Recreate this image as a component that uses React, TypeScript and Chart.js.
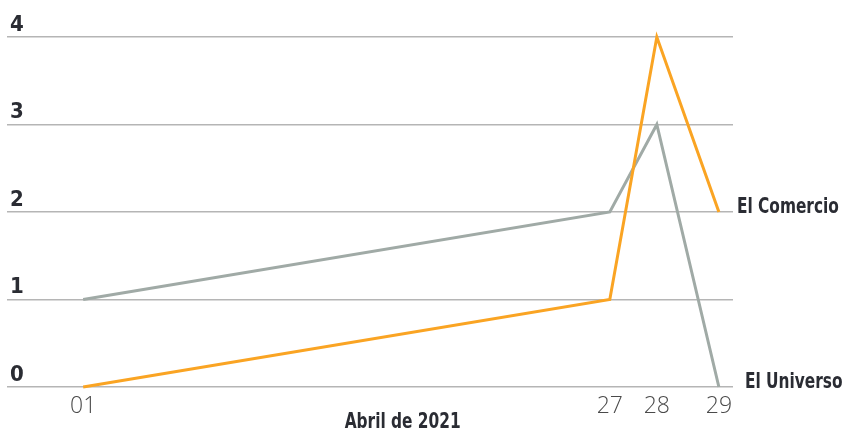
import { useEffect, useRef } from "react"
import { Chart, registerables } from "chart.js"

Chart.register(...registerables)

// days of April 2021 shown on the axis
const days = ["01", "27", "28", "29"]
// position of each day along the (non-linear) horizontal axis
const dayPos = [0, 11.2, 12.2, 13.52]
const comercio = [0, 1, 4, 2]
const universo = [1, 2, 3, 0]
const yTicks = [0, 1, 2, 3, 4]
const seriesNames = ["El Comercio", "El Universo"]

const condensed = "'DejaVu Sans Condensed', 'DejaVu Sans', sans-serif"

// draws text squeezed horizontally so it looks like a condensed face
function narrowText(ctx: CanvasRenderingContext2D, text: string, x: number, y: number, sx: number, align: "left" | "center") {
  ctx.save()
  ctx.translate(x, y)
  ctx.scale(sx, 1)
  ctx.textAlign = align
  ctx.fillText(text, 0, 0)
  ctx.restore()
}

const endLabels = {
  id: "endLabels",
  afterDatasetsDraw(chart: Chart) {
    const { ctx, chartArea } = chart
    ctx.save()
    ctx.font = `bold 21px ${condensed}`
    ctx.fillStyle = "#2a2c33"
    ctx.textBaseline = "middle"
    const sx = 102 / ctx.measureText(seriesNames[0]).width
    chart.data.datasets.forEach((ds, i) => {
      const meta = chart.getDatasetMeta(i)
      const last = meta.data[meta.data.length - 1]
      if (!last) return
      const dx = i === 0 ? 18 : 26
      narrowText(ctx, seriesNames[i], last.x + dx, last.y - 4, sx, "left")
    })
    // axis title
    narrowText(ctx, "Abril de 2021", chartArea.left + chartArea.width * 0.545, 423, sx, "center")
    ctx.restore()
  },
}

export default function App() {
  const chartRef = useRef<HTMLCanvasElement>(null)
  const chartInstance = useRef<Chart | null>(null)

  useEffect(() => {
    document.body.style.margin = "0"
    if (!chartRef.current) return
    if (chartInstance.current) chartInstance.current.destroy()

    const ctx = chartRef.current.getContext("2d")
    if (!ctx) return

    chartInstance.current = new Chart(ctx, {
      type: "line",
      data: {
        datasets: [
          {
            label: seriesNames[0],
            data: dayPos.map((x, i) => ({ x, y: comercio[i] })),
            borderColor: "#faa423",
            borderWidth: 3,
            pointRadius: 0,
            tension: 0,
            clip: false,
          },
          {
            label: seriesNames[1],
            data: dayPos.map((x, i) => ({ x, y: universo[i] })),
            borderColor: "#a0aaa6",
            borderWidth: 3,
            pointRadius: 0,
            tension: 0,
            clip: false,
          },
        ],
      },
      options: {
        animation: false,
        responsive: true,
        maintainAspectRatio: false,
        layout: { padding: { left: 7, right: 125, top: 37, bottom: 25 } },
        plugins: {
          legend: { display: false },
          tooltip: { enabled: false },
        },
        scales: {
          x: {
            type: "linear",
            min: -1.62,
            max: 13.82,
            grid: { display: false },
            border: { display: false },
            afterBuildTicks: (scale) => {
              scale.ticks = dayPos.map((v) => ({ value: v }))
            },
            afterFit: (scale) => {
              scale.height = 30
            },
            ticks: {
              autoSkip: false,
              maxRotation: 0,
              padding: -2,
              color: "#4a4a4a",
              font: { family: "'Open Sans', sans-serif", size: 23, weight: 300 },
              callback: (value) => {
                const i = dayPos.indexOf(Number(value))
                return i >= 0 ? days[i] : ""
              },
            },
          },
          y: {
            min: 0,
            max: 4,
            grid: { color: "#b5b5b5", lineWidth: 1.5, drawTicks: false },
            border: { display: false },
            afterBuildTicks: (scale) => {
              scale.ticks = yTicks.map((v) => ({ value: v }))
            },
            afterFit: (scale) => {
              scale.width = 0
            },
            ticks: {
              mirror: true,
              padding: 3,
              labelOffset: -12,
              color: "#2a2c33",
              font: { family: condensed, size: 22, weight: "bold" },
            },
          },
        },
      },
      plugins: [endLabels],
    })

    return () => {
      if (chartInstance.current) {
        chartInstance.current.destroy()
        chartInstance.current = null
      }
    }
  }, [])

  return (
    <div style={{ width: 858, height: 442, position: "relative" }}>
      <canvas ref={chartRef}></canvas>
    </div>
  )
}
